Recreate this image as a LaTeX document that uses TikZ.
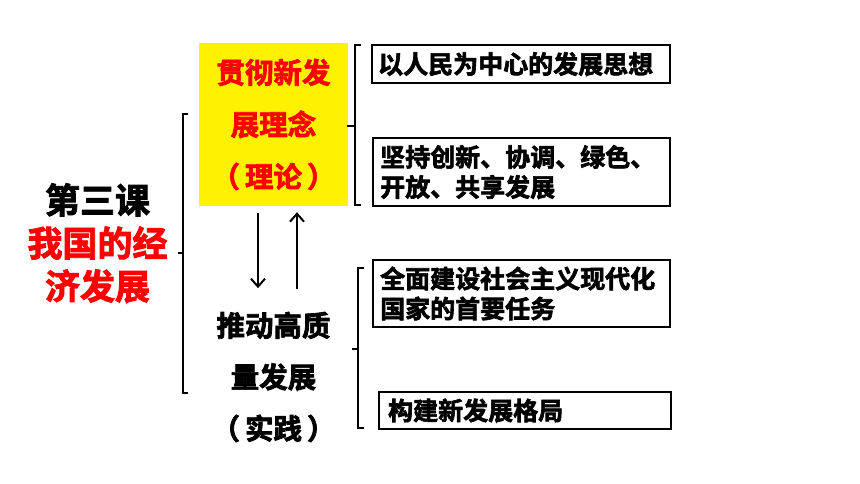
\documentclass[tikz,border=0pt]{standalone}
\usepackage{fontspec}
\setmainfont{Noto Sans CJK SC Bold}[FakeBold=2.5]
\usetikzlibrary{positioning}
\usetikzlibrary{arrows.meta}

\tikzset{
  itembox/.style={draw, line width=2.4pt, anchor=west, align=left, inner ysep=0pt,
    font=\fontsize{25}{30}\selectfont},
  brace/.style={line width=2pt},
  flow/.style={line width=2pt, -{Straight Barb[length=8pt, width=14pt, line width=2pt]}}
}

\begin{document}
\begin{tikzpicture}[x=1pt, y=-1pt]
\useasboundingbox (0,0) rectangle (860,484);
% left column
\node[align=center, font=\fontsize{35}{43}\selectfont] (lesson) at (97.5,243)
  {第三课\\\textcolor{red}{我国的经}\\\textcolor{red}{济发展}};
\draw[brace] (188,114) -- (183,114) -- (183,393) -- (188,393);
\draw[brace] (183,253) -- (178,253);
% theory and practice
\node[fill=yellow, text=red, align=center, minimum width=149pt, minimum height=163pt,
  inner sep=0pt, font=\fontsize{28.5}{52}\selectfont] (theory) at (273.5,124.5)
  {贯彻新发\\展理念\\（\hspace{5pt}理论\hspace{5pt}）};
\node[align=center, font=\fontsize{28.5}{51.5}\selectfont] (practice) at (273.5,377)
  {推动高质\\量发展\\（\hspace{5pt}实践\hspace{5pt}）};
\draw[flow] ([xshift=-15.5pt, yshift=-7pt]theory.south) -- ([xshift=-15.5pt, yshift=-82pt]theory.south);
\draw[flow] ([xshift=23.5pt, yshift=-83pt]theory.south) -- ([xshift=23.5pt, yshift=-6pt]theory.south);
% theory items
\draw[brace] (361,45) -- (355,45) -- (355,205) -- (361,205);
\draw[brace] (355,126) -- (347,126);
\node[itembox, minimum height=38pt, inner xsep=6pt, text width=286pt] (idea) at (371,64)
  {以人民为中心的发展思想};
\node[itembox, minimum height=68pt, inner xsep=7pt, text width=283pt] (concept) at (372,172)
  {坚持创新、协调、绿色、\\开放、共享发展};
% practice items
\draw[brace] (364,268) -- (358,268) -- (358,428) -- (364,428);
\draw[brace] (358,349) -- (352,349);
\node[itembox, minimum height=67pt, inner xsep=7pt, text width=283pt] (task) at (372,293.5)
  {全面建设社会主义现代化\\国家的首要任务};
\node[itembox, minimum height=37pt, inner xsep=9pt, text width=274pt] (pattern) at (378,410.5)
  {构建新发展格局};
\end{tikzpicture}
\end{document}
